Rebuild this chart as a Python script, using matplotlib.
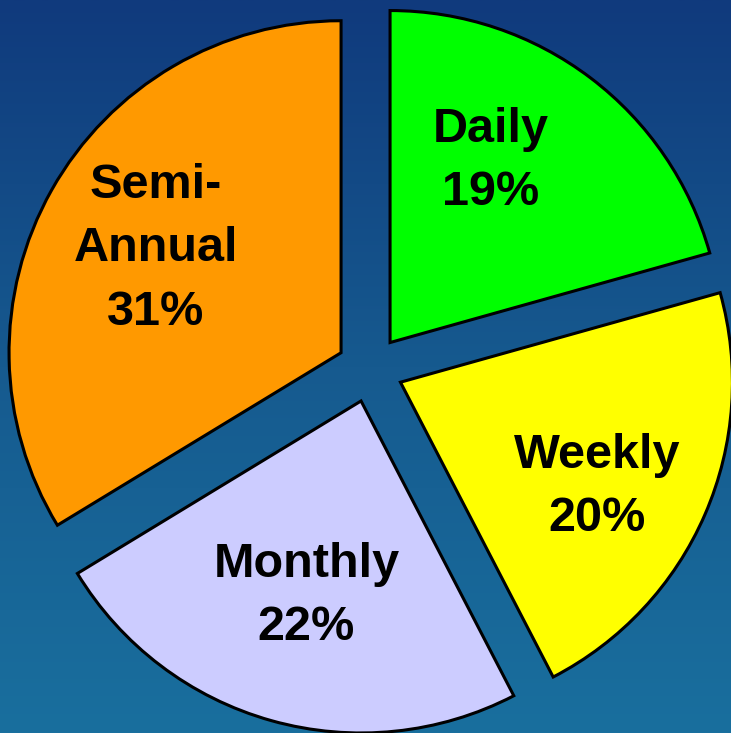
import numpy as np
import matplotlib
matplotlib.use('Agg')
import matplotlib.pyplot as plt
from matplotlib.colors import LinearSegmentedColormap

# data
categories = ['Daily', 'Weekly', 'Monthly', 'Semi-\nAnnual']
shares = [19, 20, 22, 31]
pct_labels = ['19%', '20%', '22%', '31%']
colors = ['#00ff00', '#ffff00', '#ccccff', '#ff9900']

# label placement (distance from pie centre, angle nudge in degrees)
label_dist = [0.725, 0.77, 0.71, 0.74]
label_nudge = [7, -4, 0, 0]

plt.rcParams['font.family'] = ['Liberation Sans', 'DejaVu Sans']

fig = plt.figure(figsize=(7.31, 7.33), dpi=100)
ax = fig.add_axes([0, 0, 1, 1])

wedges, _ = ax.pie(shares, colors=colors, startangle=90, counterclock=False,
                   explode=[0.1] * len(shares), radius=1.0,
                   wedgeprops={'edgecolor': 'black', 'linewidth': 2.2})

# pixel geometry: centre at (370, 369), radius 332 px
cx, cy, rpx = 370, 369, 332
xlim = (-cx / rpx, (731 - cx) / rpx)
ylim = (-(733 - cy) / rpx, cy / rpx)
ax.set_xlim(xlim)
ax.set_ylim(ylim)
ax.set_aspect('auto')
ax.axis('off')

# background gradient, dark navy at top to lighter teal blue at bottom
bg = LinearSegmentedColormap.from_list('bg', [(0.0, '#103a7d'), (0.5, '#165a8f'), (1.0, '#196f9e')])
grad = np.linspace(0, 1, 256).reshape(-1, 1)
ax.imshow(grad, cmap=bg, extent=[xlim[0], xlim[1], ylim[0], ylim[1]],
          aspect='auto', origin='upper', zorder=0)

for w, name, pct, d, nudge in zip(wedges, categories, pct_labels, label_dist, label_nudge):
    ang = np.deg2rad((w.theta1 + w.theta2) / 2 + nudge)
    ax.text(d * np.cos(ang), d * np.sin(ang), name + '\n' + pct,
            ha='center', va='center', fontsize=35, fontweight='bold',
            linespacing=1.53, color='black', zorder=3)

fig.savefig('out.png', dpi=100)
